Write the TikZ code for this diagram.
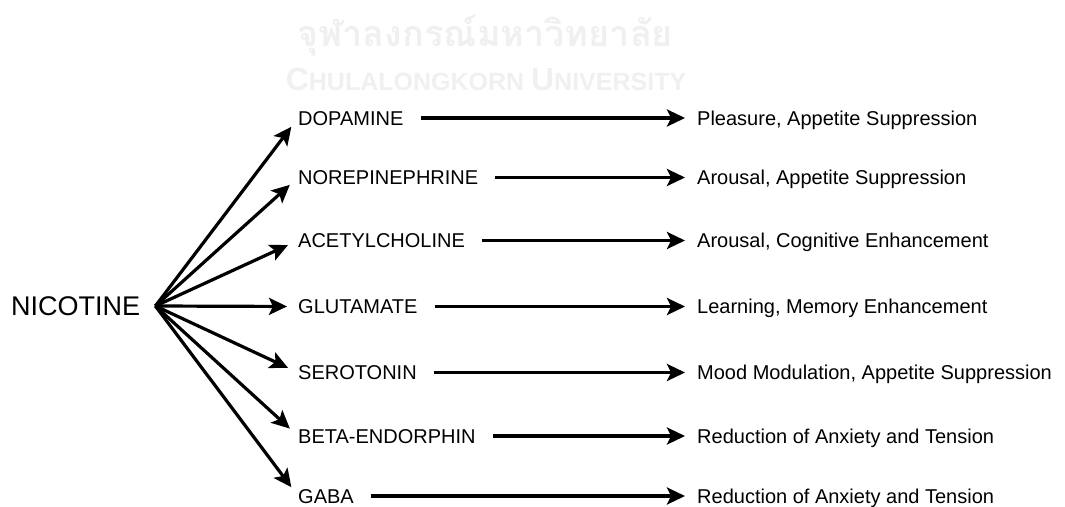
\documentclass[tikz,border=0pt]{standalone}
\usepackage{fontspec}
\setmainfont{Liberation Sans}
\newfontfamily\thaifont[Script=Thai]{Loma}
\usetikzlibrary{arrows.meta,positioning}
\tikzset{
  chem/.style={anchor=west,inner sep=0pt,text height=14pt,text depth=0pt,
    font=\fontsize{20}{22}\selectfont},
  effect/.style={chem},
  arr/.style={line width=3.2pt,-{Stealth[length=18pt,width=17pt,inset=4pt]}},
  mark wm/.style={text=black!6,inner sep=0pt},
}
\begin{document}
\begin{tikzpicture}[x=1pt,y=-1pt]
  \useasboundingbox (0,0) rectangle (1065,506);
  % watermark
  \node[mark wm] (wmth) at (485,35) {\thaifont\bfseries\fontsize{36}{40}\selectfont จุฬาลงกรณ์มหาวิทยาลัย};
  \node[mark wm,font=\bfseries] (wmen) at (486,79)
    {\fontsize{32}{34}\selectfont C\fontsize{25}{28}\selectfont HULALONGKORN
     \fontsize{32}{34}\selectfont U\fontsize{25}{28}\selectfont NIVERSITY};
  % source
  \node[anchor=west,inner sep=0pt,text height=19.5pt,text depth=0pt,
    font=\fontsize{27}{30}\selectfont] (nic) at (11,306) {NICOTINE};
  \coordinate[right=15pt of nic] (hub);
  % transmitters and effects
  \foreach \nm/\lbl/\eff/\y in {
      dop/DOPAMINE/{Pleasure, Appetite Suppression}/118,
      nor/NOREPINEPHRINE/{Arousal, Appetite Suppression}/177.5,
      ach/ACETYLCHOLINE/{Arousal, Cognitive Enhancement}/240.5,
      glu/GLUTAMATE/{Learning, Memory Enhancement}/306.5,
      ser/SEROTONIN/{Mood Modulation, Appetite Suppression}/372.5,
      bet/BETA-ENDORPHIN/{Reduction of Anxiety and Tension}/436,
      gab/GABA/{Reduction of Anxiety and Tension}/496}{
    \node[chem] (\nm) at (298,\y) {\lbl};
    \node[effect] (\nm e) at (697,\y) {\eff};
    \draw[arr,shorten >=11pt] (hub) -- (\nm.west);
    \draw[arr,shorten <=17pt,shorten >=12pt] (\nm.east) -- (\nm e.west);
  }
\end{tikzpicture}
\end{document}
